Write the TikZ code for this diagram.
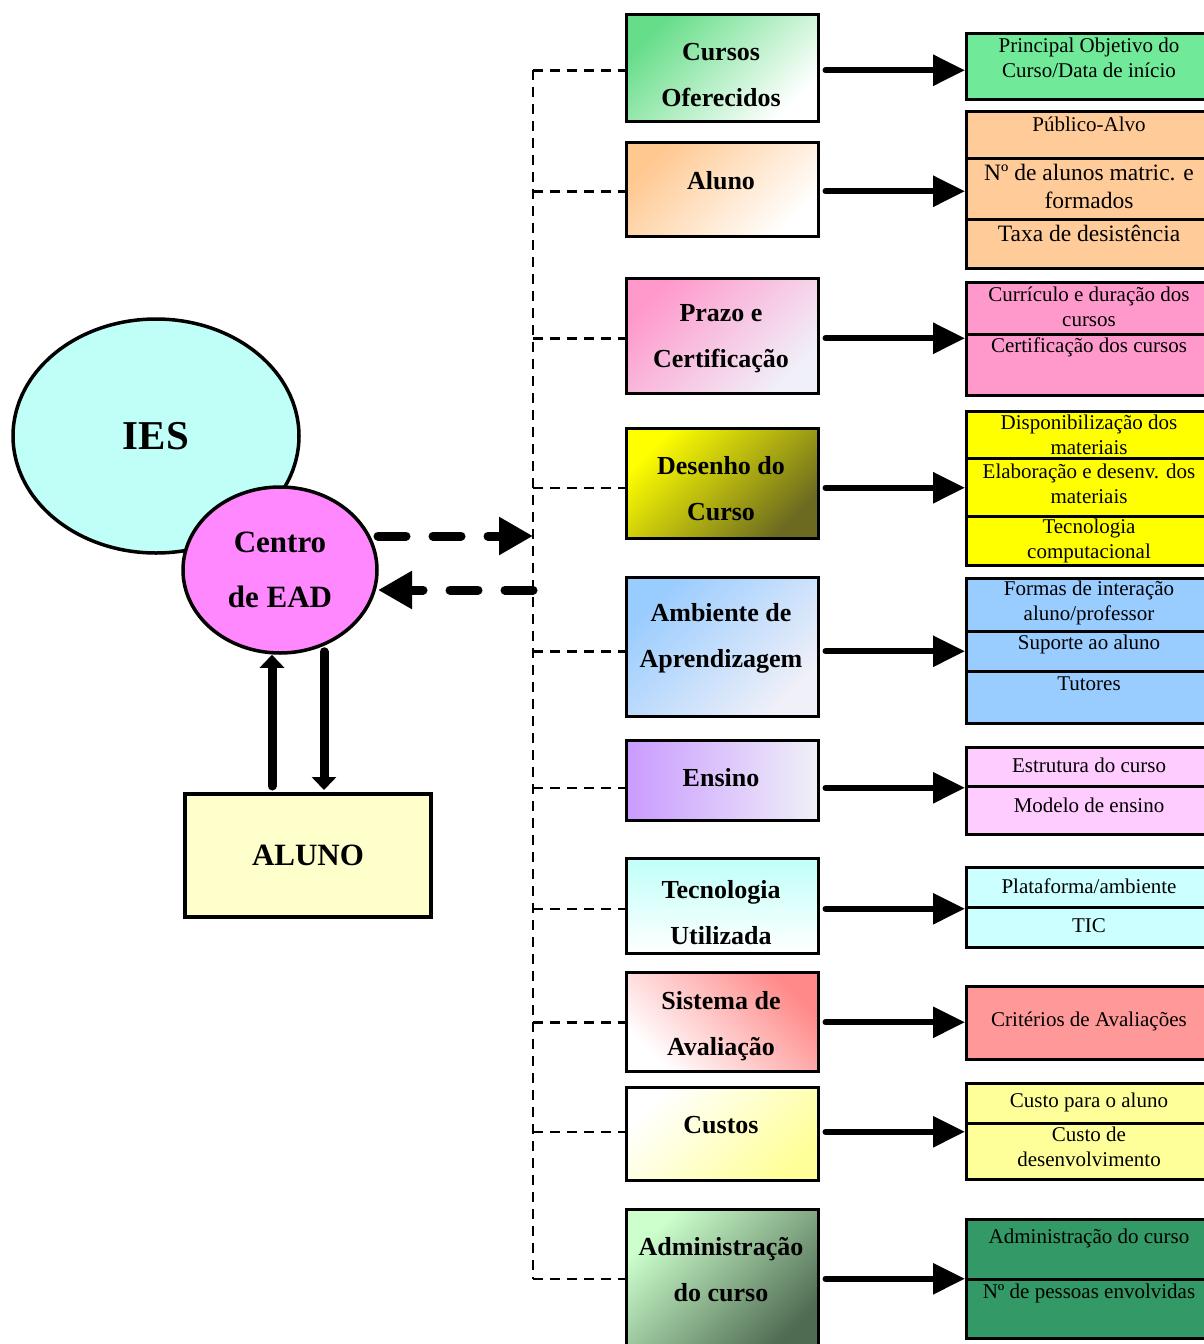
\documentclass[tikz,border=0pt]{standalone}
\usepackage{fontspec}
\setmainfont{Liberation Serif}
\usetikzlibrary{arrows.meta,shapes.geometric,calc}

% colours
\definecolor{iescyan}{HTML}{BFFFF7}
\definecolor{eadpink}{HTML}{FF88FF}
\definecolor{alunoyel}{HTML}{FFFFCC}
\definecolor{rgreen}{HTML}{70EA98}
\definecolor{rorange}{HTML}{FFCC99}
\definecolor{rpink}{HTML}{FF99CC}
\definecolor{ryellow}{HTML}{FFFF00}
\definecolor{rblue}{HTML}{99CCFF}
\definecolor{rlilac}{HTML}{FFCCFF}
\definecolor{rcyan}{HTML}{CCFFFF}
\definecolor{rsalmon}{HTML}{FF9999}
\definecolor{rlyellow}{HTML}{FFFF99}
\definecolor{rdgreen}{HTML}{339966}
\definecolor{paleend}{HTML}{F0F0F8}
\definecolor{sgreen}{HTML}{66DD88}
\definecolor{sorange}{HTML}{FFC890}
\definecolor{spink}{HTML}{FF99CC}
\definecolor{syellow}{HTML}{FFFF00}
\definecolor{solive}{HTML}{6B6A20}
\definecolor{sblue}{HTML}{99CCFF}
\definecolor{spurple}{HTML}{C99BFF}
\definecolor{scyan}{HTML}{BFFFF8}
\definecolor{sred}{HTML}{FF8888}
\definecolor{slyellow}{HTML}{FFFF99}
\definecolor{smint}{HTML}{CCFFCC}
\definecolor{sdkgreen}{HTML}{4F6B52}

\tikzset{
  midbox/.style={draw, line width=2.5pt, inner sep=0pt, minimum width=192pt},
  cellbox/.style={draw, line width=3pt, inner sep=0pt, minimum width=255pt},
  midtext/.style={font=\bfseries\fontsize{26}{46}\selectfont, align=center, inner sep=0pt},
  celltext/.style={font=\fontsize{21}{25}\selectfont, align=center, inner sep=0pt},
  celltextbig/.style={font=\fontsize{23.5}{28}\selectfont, align=center, inner sep=0pt},
  feed/.style={line width=6pt, line cap=round, shorten <=6pt, -{Triangle[length=32pt,width=30pt]}},
  busline/.style={line width=2.5pt, dash pattern=on 10pt off 7pt},
  bigdash/.style={line width=9pt, line cap=round, dash pattern=on 28pt off 27pt, -{Triangle[length=34pt,width=36pt]}},
  updown/.style={line width=9pt, line cap=round, -{Triangle[length=13pt,width=24pt]}},
}

% middle column box: name, top, bottom, shading options
\newcommand\midbox[4]{\node[midbox, #4, minimum height={#3-#2}, anchor=north west] (#1) at (625,#2) {};}
% right column cell: name, colour, top, bottom
\newcommand\rcell[4]{\node[cellbox, fill=#2, minimum height={#4-#3}, anchor=north west] (#1) at (965,#3) {};}

\begin{document}
\begin{tikzpicture}[x=1pt,y=-1pt]
\useasboundingbox (0,0) rectangle (1204,1344);
\clip (0,0) rectangle (1204,1344);

% ---------- left part ----------
\node[ellipse, draw, line width=3.5pt, fill=iescyan, minimum width=286pt, minimum height=234pt, inner sep=0pt,
      font=\bfseries\fontsize{41}{41}\selectfont] (ies) at (156,436) {IES};
\node[ellipse, draw, line width=3.5pt, fill=eadpink, minimum width=194pt, minimum height=166pt, inner sep=0pt,
      font=\bfseries\fontsize{31}{55}\selectfont, align=center] (ead) at (280,570) {Centro\\de EAD};
\node[draw, line width=4pt, fill=alunoyel, minimum width=246pt, minimum height=123pt, inner sep=0pt,
      font=\bfseries\fontsize{31}{31}\selectfont] (aluno) at (308,855.5) {ALUNO};

\draw[updown] ($(aluno.north)+(-36,-6)$) -- ($(ead.south)+(-8,0)$);
\draw[updown] ($(ead.south)+(44,-3)$) -- ($(aluno.north)+(16,-2)$);

% ---------- middle column ----------
\midbox{m1}{13}{120}{top color=sgreen, middle color=sgreen!30!white, bottom color=white, shading angle=45}
\midbox{m2}{141}{235}{top color=sorange, bottom color=white, shading angle=45}
\midbox{m3}{277}{392}{top color=spink, bottom color=paleend, shading angle=45}
\midbox{m4}{427}{537}{top color=syellow, bottom color=solive, shading angle=45}
\midbox{m5}{576}{715}{top color=sblue, bottom color=paleend, shading angle=45}
\midbox{m6}{739}{819}{left color=spurple, right color=paleend}
\midbox{m7}{857}{952}{top color=scyan, bottom color=white}
\midbox{m8}{971}{1070}{top color=sred, bottom color=white, shading angle=-45}
\midbox{m9}{1086}{1179}{top color=white, bottom color=slyellow, shading angle=45}
\midbox{m10}{1208}{1352}{top color=smint, bottom color=sdkgreen, shading angle=45}

\node[midtext] (t1) at (721,75) {Cursos\\Oferecidos};
\node[midtext] (t2) at (721,181) {Aluno};
\node[midtext] (t3) at (721,339) {Prazo e\\Certificação};
\node[midtext] (t4) at (721,489) {Desenho do\\Curso};
\node[midtext] (t5) at (721,638) {Ambiente de\\Aprendizagem};
\node[midtext] (t6) at (721,778) {Ensino};
\node[midtext] (t7) at (721,913) {Tecnologia\\Utilizada};
\node[midtext] (t8) at (721,1026) {Sistema de\\Avaliação};
\node[midtext] (t9) at (721,1125) {Custos};
\node[midtext] (t10) at (721,1270) {Administração\\do curso};

% ---------- right column ----------
\rcell{r1}{rgreen}{32}{98}
\rcell{r2}{rorange}{110}{157}
\rcell{r2b}{rorange}{157}{218}
\rcell{r2c}{rorange}{218}{267}
\rcell{r3}{rpink}{281}{333}
\rcell{r3b}{rpink}{333}{394}
\rcell{r4}{ryellow}{410}{457}
\rcell{r4b}{ryellow}{457}{515}
\rcell{r4c}{ryellow}{515}{564}
\rcell{r5}{rblue}{577}{630}
\rcell{r5b}{rblue}{630}{670}
\rcell{r5c}{rblue}{670}{722}
\rcell{r6}{rlilac}{746}{785}
\rcell{r6b}{rlilac}{785}{833}
\rcell{r7}{rcyan}{866}{906}
\rcell{r7b}{rcyan}{906}{946}
\rcell{r8}{rsalmon}{985}{1058}
\rcell{r9}{rlyellow}{1082}{1122}
\rcell{r9b}{rlyellow}{1122}{1178}
\rcell{r10}{rdgreen}{1218}{1278}
\rcell{r10b}{rdgreen}{1278}{1337}

\node[celltext] (s1) at (1089,57.5) {Principal Objetivo do\\Curso/Data de início};
\node[celltext] (s2) at (1089,124) {Público-Alvo};
\node[celltextbig] (s2b) at (1089,186) {Nº de alunos matric. e\\formados};
\node[celltextbig] (s2c) at (1089,233) {Taxa de desistência};
\node[celltext] (s3) at (1089,306.5) {Currículo e duração dos\\cursos};
\node[celltext] (s3b) at (1089,347) {Certificação dos cursos};
\node[celltext] (s4) at (1089,435) {Disponibilização dos\\materiais};
\node[celltext] (s4b) at (1089,483.5) {Elaboração e desenv. dos\\materiais};
\node[celltext] (s4c) at (1089,541) {Tecnologia\\computacional};
\node[celltext] (s5) at (1089,603) {Formas de interação\\aluno/professor};
\node[celltext] (s5b) at (1089,644) {Suporte ao aluno};
\node[celltext] (s5c) at (1089,684) {Tutores};
\node[celltext] (s6) at (1089,765) {Estrutura do curso};
\node[celltext] (s6b) at (1089,805) {Modelo de ensino};
\node[celltext] (s7) at (1089,886) {Plataforma/ambiente};
\node[celltext] (s7b) at (1089,926) {TIC};
\node[celltext] (s8) at (1089,1021) {Critérios de Avaliações};
\node[celltext] (s9) at (1089,1102) {Custo para o aluno};
\node[celltext] (s9b) at (1089,1147) {Custo de\\desenvolvimento};
\node[celltext] (s10) at (1089,1238) {Administração do curso};
\node[celltext] (s10b) at (1089,1293) {Nº de pessoas envolvidas};

% ---------- row levels of the feeds and bus branches ----------
\foreach \i/\d in {1/2.5,2/2,3/2.5,4/4.5,5/4.5,6/7.5,7/3,8/0.5,9/-2,10/-2.5}{
  \coordinate (fa\i) at ($(m\i.east)+(0,\d)$);
  \coordinate (fb\i) at ($(m\i.west)+(0,\d)$);
}

% ---------- feeds from middle column to right column ----------
\foreach \i in {1,...,10}{
  \draw[feed] (fa\i) -- (fa\i -| r\i.west);
}

% ---------- dashed bus ----------
\coordinate (bx) at (533,0);
\draw[busline] (fb1 -| bx) -- (fb10 -| bx);
\foreach \i in {1,...,10}{
  \draw[busline] (fb\i -| bx) -- (fb\i);
}

% ---------- exchange between the centre and the bus ----------
\coordinate (ea) at (378,536);
\coordinate (eb) at (378,590);
\draw[bigdash] (ea) -- (ea -| bx);
\draw[bigdash] (eb -| bx) -- (eb);

\end{tikzpicture}
\end{document}
